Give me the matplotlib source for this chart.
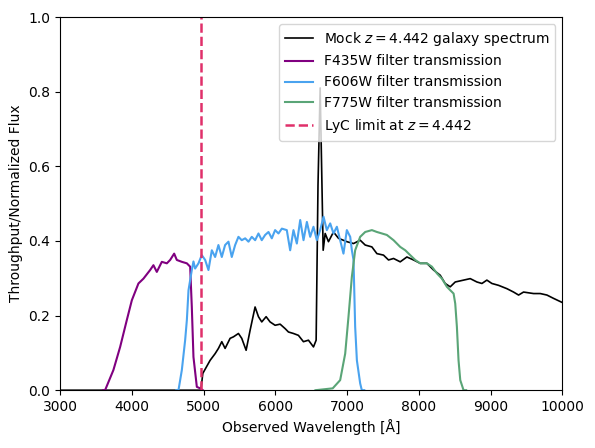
import matplotlib
matplotlib.use("Agg")
import matplotlib.pyplot as plt

# mock galaxy spectrum (observed wavelength in A, normalized flux)
spec_wave = [3000, 4955, 4963, 4989, 5091, 5161, 5207, 5254, 5300, 5370, 5416, 5486,
             5532, 5593, 5649, 5718, 5765, 5811, 5872, 5927, 5997, 6067, 6137,
             6183, 6253, 6322, 6392, 6462, 6532, 6569, 6595, 6625, 6655, 6667,
             6695, 6741, 6811, 6881, 6998, 7090, 7183, 7253, 7346, 7416, 7508,
             7578, 7648, 7741, 7834, 7927, 8020, 8113, 8206, 8299, 8368, 8438,
             8508, 8624, 8717, 8810, 8880, 8949, 9019, 9112, 9229, 9321, 9391,
             9460, 9600, 9693, 9786, 9879, 10000]
spec_flux = [0, 0, 0.0, 0.045, 0.08, 0.098, 0.112, 0.13, 0.112, 0.139, 0.143, 0.152,
             0.139, 0.107, 0.161, 0.223, 0.197, 0.183, 0.197, 0.183, 0.174, 0.177, 0.165,
             0.156, 0.152, 0.147, 0.13, 0.134, 0.116, 0.134, 0.55, 0.81, 0.50, 0.375,
             0.42, 0.398, 0.424, 0.407, 0.398, 0.393, 0.402, 0.389, 0.384, 0.366, 0.362,
             0.349, 0.353, 0.344, 0.357, 0.349, 0.34, 0.34, 0.322, 0.308, 0.286, 0.277,
             0.29, 0.295, 0.299, 0.29, 0.286, 0.295, 0.286, 0.281, 0.272, 0.263, 0.255,
             0.263, 0.259, 0.259, 0.255, 0.246, 0.235]

# F435W
f435_wave = [3600, 3627, 3743, 3837, 3930, 4000, 4092, 4162, 4255, 4301, 4348, 4418,
             4488, 4534, 4590, 4627, 4697, 4767, 4813, 4836, 4859, 4906, 4952, 4990]
f435_thr = [0, 0, 0.054, 0.116, 0.188, 0.241, 0.286, 0.299, 0.322, 0.335, 0.317, 0.344,
            0.34, 0.349, 0.366, 0.349, 0.344, 0.34, 0.331, 0.223, 0.089, 0.009, 0.005, 0]

# F606W
f606_wave = [4620, 4650, 4697, 4743, 4767, 4790, 4813, 4836, 4859, 4882, 4929, 4975,
             5022, 5068, 5115, 5161, 5207, 5254, 5300, 5347, 5393, 5440, 5486, 5532,
             5580, 5626, 5672, 5719, 5765, 5811, 5858, 5905, 5951, 5997, 6044, 6091,
             6160, 6207, 6253, 6300, 6347, 6393, 6440, 6486, 6532, 6579, 6625, 6672,
             6718, 6765, 6811, 6858, 6904, 6950, 6997, 7044, 7067, 7090, 7113, 7137,
             7183, 7206, 7240]
f606_thr = [0, 0, 0.054, 0.134, 0.188, 0.268, 0.295, 0.322, 0.345, 0.326, 0.34, 0.362,
            0.349, 0.322, 0.375, 0.357, 0.389, 0.357, 0.389, 0.398, 0.357, 0.389, 0.411, 0.402,
            0.407, 0.398, 0.411, 0.402, 0.42, 0.402, 0.416, 0.424, 0.407, 0.429, 0.42, 0.433,
            0.429, 0.375, 0.429, 0.393, 0.456, 0.402, 0.451, 0.411, 0.438, 0.402, 0.429, 0.465,
            0.429, 0.447, 0.42, 0.438, 0.402, 0.366, 0.429, 0.411, 0.375, 0.349, 0.17, 0.08,
            0.018, 0, 0]

# F775W
f775_wave = [6560, 6800, 6904, 6974, 7020, 7067, 7113, 7183, 7253, 7346, 7416, 7486,
             7555, 7648, 7741, 7811, 7880, 7950, 8020, 8113, 8183, 8253, 8322, 8392,
             8438, 8485, 8508, 8531, 8554, 8578, 8624, 8660]
f775_thr = [0, 0.005, 0.027, 0.098, 0.197, 0.304, 0.375, 0.411, 0.424, 0.429, 0.424, 0.42,
            0.416, 0.402, 0.384, 0.375, 0.362, 0.349, 0.34, 0.34, 0.331, 0.313, 0.299, 0.277,
            0.268, 0.259, 0.232, 0.17, 0.08, 0.027, 0, 0]

z = 4.442
lyc_limit = 912 * (1 + z)

fig = plt.figure(figsize=(5.95, 4.48), dpi=100)
ax = fig.add_axes([0.101, 0.129, 0.844, 0.833])

ax.plot(spec_wave, spec_flux, color='black', lw=1.2,
        label=r'Mock $z = 4.442$ galaxy spectrum')
ax.plot(f435_wave, f435_thr, color='purple', lw=1.5, label='F435W filter transmission')
ax.plot(f606_wave, f606_thr, color='#4aa3ef', lw=1.5, label='F606W filter transmission')
ax.plot(f775_wave, f775_thr, color='#5aa577', lw=1.5, label='F775W filter transmission')
ax.axvline(lyc_limit, color='#e0306a', ls='--', lw=1.8, label=r'LyC limit at $z = 4.442$')

ax.set_xlim(3000, 10000)
ax.set_ylim(0, 1.0)
ax.set_xlabel('Observed Wavelength [Å]')
ax.set_ylabel('Throughput/Normalized Flux')
ax.legend(loc='upper right', fontsize=10)

fig.savefig('out.png', dpi=100)
